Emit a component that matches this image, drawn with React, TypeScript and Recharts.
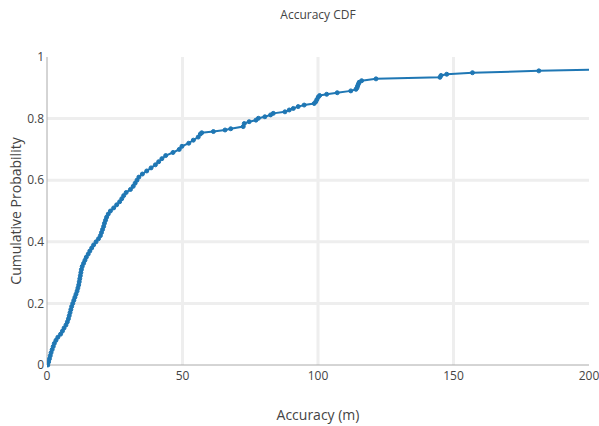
import React from "react";
import {
  LineChart,
  Line,
  XAxis,
  YAxis,
  CartesianGrid,
  Label,
} from "recharts";

// accuracy values (m), sorted
const accuracy = [
  0.3, 0.6, 0.9, 1.2, 1.5, 1.9, 2.3, 2.7, 3.3, 4.0,
  5.0, 5.7, 6.3, 7.0, 7.5, 7.9, 8.2, 8.5, 8.8, 9.1,
  9.5, 9.9, 10.3, 10.7, 11.1, 11.4, 11.7, 11.9, 12.1, 12.3,
  12.5, 12.7, 13.0, 13.5, 14.0, 14.5, 15.2, 15.8, 16.5, 17.2,
  18.1, 19.0, 19.7, 20.1, 20.5, 20.9, 21.2, 21.6, 22.0, 22.6,
  23.4, 24.6, 25.7, 26.8, 27.6, 28.3, 29.2, 30.8, 31.8, 32.5,
  33.2, 33.9, 35.2, 36.8, 38.4, 40.0, 41.2, 42.4, 43.8, 46.5,
  48.8, 49.8, 52.3, 54.0, 55.8, 56.6, 57.1, 61.4, 65.7, 67.8,
  72.4, 72.8, 74.6, 77.1, 78.0, 80.4, 82.5, 83.5, 87.8, 89.4,
  90.9, 92.7, 94.9, 98.6, 99.2, 99.6, 100.1, 100.6, 103.2, 107.1,
  112.1, 114.0, 114.4, 114.6, 114.9, 115.2, 116.1, 121.4, 145.0, 145.4,
  147.5, 157.0, 181.5, 210.0,
];

// cumulative probability at each accuracy value
const probability = [
  0.0, 0.01, 0.02, 0.03, 0.04, 0.05, 0.06, 0.07, 0.08, 0.09,
  0.1, 0.11, 0.12, 0.13, 0.14, 0.15, 0.16, 0.17, 0.18, 0.19,
  0.2, 0.21, 0.22, 0.23, 0.24, 0.25, 0.26, 0.27, 0.28, 0.29,
  0.3, 0.31, 0.32, 0.33, 0.34, 0.35, 0.36, 0.37, 0.38, 0.39,
  0.4, 0.41, 0.42, 0.43, 0.44, 0.45, 0.46, 0.47, 0.48, 0.49,
  0.5, 0.51, 0.52, 0.53, 0.54, 0.55, 0.56, 0.57, 0.58, 0.59,
  0.6, 0.61, 0.62, 0.63, 0.64, 0.65, 0.66, 0.67, 0.68, 0.69,
  0.7, 0.71, 0.72, 0.73, 0.74, 0.75, 0.754, 0.758, 0.763, 0.767,
  0.774, 0.784, 0.79, 0.795, 0.801, 0.806, 0.812, 0.817, 0.822, 0.828,
  0.833, 0.839, 0.844, 0.849, 0.855, 0.862, 0.87, 0.875, 0.879, 0.884,
  0.89, 0.895, 0.9, 0.906, 0.912, 0.918, 0.923, 0.929, 0.934, 0.94,
  0.944, 0.949, 0.955, 0.9605,
];

const xTicks = [0, 50, 100, 150, 200];
const yTicks = [0, 0.2, 0.4, 0.6, 0.8, 1];

const data = accuracy.map((x, i) => ({ x, p: probability[i] }));

const font = "'Open Sans', sans-serif";
const tickStyle = { fill: "#444", fontSize: 12, fontFamily: font };

export default function App() {
  return (
    <div style={{ position: "absolute", left: 0, top: 0, width: 599, height: 426, background: "#fff" }}>
      <div
        style={{
          position: "absolute",
          left: 0,
          width: 636,
          top: 6,
          textAlign: "center",
          fontFamily: font,
          fontSize: 12,
          color: "#444",
        }}
      >
        Accuracy CDF
      </div>
      <LineChart
        width={599}
        height={426}
        data={data}
        margin={{ top: 57, right: 10, left: 0, bottom: 0 }}
      >
        <CartesianGrid
          stroke="#eeeeee"
          strokeWidth={3}
          horizontalValues={[0.2, 0.4, 0.6, 0.8]}
          verticalValues={[50, 100, 150]}
        />
        <XAxis
          type="number"
          dataKey="x"
          domain={[0, 200]}
          ticks={xTicks}
          allowDataOverflow
          height={61}
          tickLine={false}
          tickSize={4}
          tickMargin={2}
          stroke="#aaaaaa"
          tick={tickStyle}
        >
          <Label
            value="Accuracy (m)"
            position="insideBottom"
            offset={6}
            style={{ fill: "#444", fontSize: 14, fontFamily: font }}
          />
        </XAxis>
        <YAxis
          type="number"
          domain={[0, 1]}
          ticks={yTicks}
          width={47}
          tickLine={false}
          tickSize={3}
          tickMargin={0}
          stroke="#aaaaaa"
          tick={tickStyle}
          tickFormatter={(v: number) => String(v)}
        >
          <Label
            value="Cumulative Probability"
            angle={-90}
            position="insideLeft"
            offset={16}
            style={{ fill: "#444", fontSize: 14, fontFamily: font, textAnchor: "middle" }}
          />
        </YAxis>
        <Line
          type="linear"
          dataKey="p"
          stroke="#1f77b4"
          strokeWidth={2}
          dot={{ r: 2, fill: "#1f77b4", stroke: "#1f77b4", strokeWidth: 1 }}
          isAnimationActive={false}
        />
      </LineChart>
    </div>
  );
}
